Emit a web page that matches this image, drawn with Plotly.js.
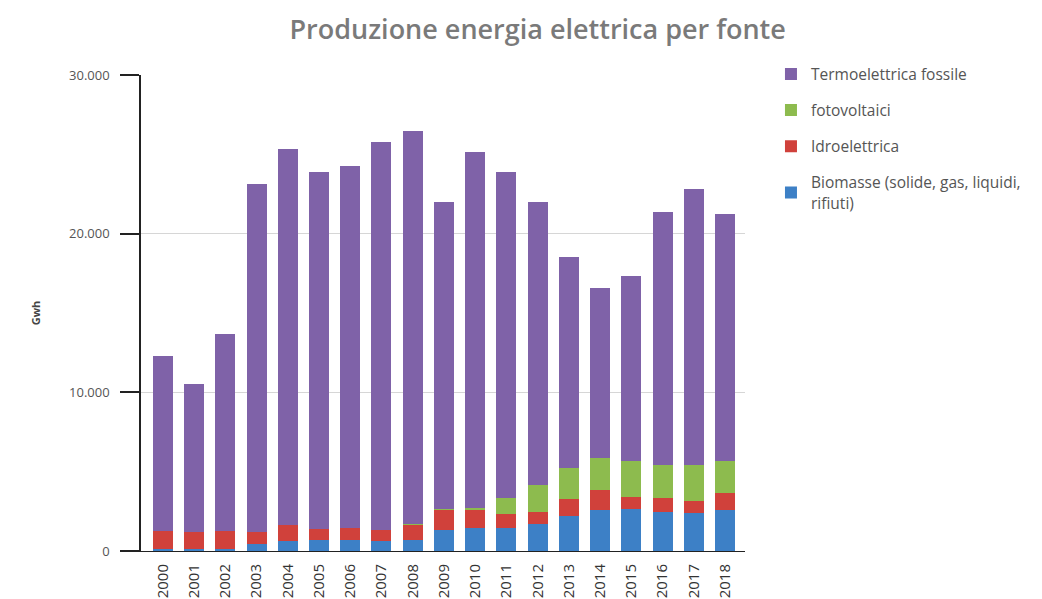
<!DOCTYPE html>
<html>
<head>
<meta charset="utf-8">
<script src="https://cdn.plot.ly/plotly-3.0.1.min.js"></script>
<style>html,body{margin:0;padding:0;background:#fff;}#chart{width:1042px;height:599px;}</style>
</head>
<body>
<div id="chart"></div>
<script>
const years = ["2000","2001","2002","2003","2004","2005","2006","2007","2008","2009","2010","2011","2012","2013","2014","2015","2016","2017","2018"];
const biomasse = [100,100,150,470,610,680,680,620,720,1310,1430,1430,1680,2210,2590,2650,2480,2420,2590];
const idroelettrica = [1160,1100,1110,730,1010,730,770,730,950,1300,1200,900,760,1070,1260,780,840,730,1090];
const fotovoltaici = [0,0,0,0,0,0,0,0,10,60,100,990,1720,1980,2000,2250,2110,2280,2020];
const termoelettrica = [11040,9300,12440,21900,23730,22490,22800,24400,24770,19330,22420,20580,17840,13290,10700,11670,15920,17370,15550];
const seriesNames = ["Biomasse (solide, gas, liquidi,<br>rifiuti)","Idroelettrica","fotovoltaici","Termoelettrica fossile"];
const yTickVals = [0,10000,20000,30000];

const colors = ["#3d80c6","#d0413b","#8dbb4e","#7f62a8"];
const vals = [biomasse, idroelettrica, fotovoltaici, termoelettrica];
const traces = vals.map((v,i)=>({
  type:"bar", x:years, y:v, name:seriesNames[i], legendgroup:"g"+i, legendrank:4-i,
  marker:{color:colors[i], line:{width:0}},
  hoverinfo:"x+y+name"
}));

const layout = {
  width:1042, height:599,
  paper_bgcolor:"#fff", plot_bgcolor:"#fff",
  separators:",.",
  barmode:"stack", bargap:0.36,
  margin:{l:141, r:297, t:75, b:48},
  font:{family:"Open Sans, sans-serif", color:"#555"},
  title:{text:"Produzione energia elettrica per fonte", x:0.516, xref:"container", xanchor:"center", y:0.95, yref:"container", yanchor:"middle",
    font:{family:"Open Sans, sans-serif", size:27, color:"#7a7a7a", weight:600}},
  xaxis:{type:"category", range:[-0.7,18.64], tickangle:-90, ticks:"", showline:true, linecolor:"#222", linewidth:1,
    tickfont:{family:"Open Sans, sans-serif", size:15, color:"#333"}, ticklabelstandoff:6, showgrid:false, fixedrange:true},
  yaxis:{range:[0,30000], tickvals:yTickVals, tickformat:",d", ticks:"outside", ticklen:19, tickcolor:"#222", tickwidth:1.5,
    showline:true, linecolor:"#222", linewidth:1.5, gridcolor:"#d6d6d6", zeroline:false, ticklabelstandoff:8,
    tickfont:{family:"Open Sans, sans-serif", size:13, color:"#555"},
    title:{text:"Gwh", standoff:26, font:{family:"Open Sans, sans-serif", size:11, color:"#444", weight:700}}},
  legend:{x:1.043, xanchor:"left", y:1.037, yanchor:"top", traceorder:"grouped", tracegroupgap:13,
    font:{family:"Open Sans, sans-serif", size:15.5, color:"#555"}, bgcolor:"rgba(0,0,0,0)"},
  showlegend:true
};
Plotly.newPlot("chart", traces, layout, {displayModeBar:false});
</script>
</body>
</html>
